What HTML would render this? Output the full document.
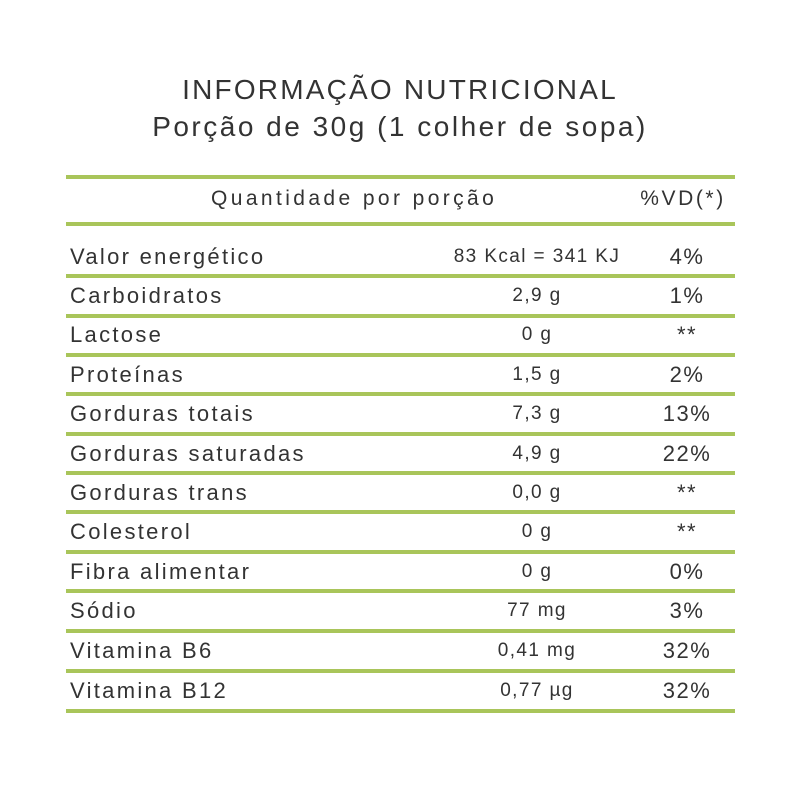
<!DOCTYPE html>
<html><head><meta charset="utf-8"><style>
body{margin:0;width:800px;height:800px;background:#fff;position:relative;font-family:"Liberation Sans",sans-serif;color:#333;overflow:hidden}
.t{position:absolute;left:0;width:800px;text-align:center;font-size:28px;line-height:34px;letter-spacing:2.2px}
.l{position:absolute;left:66px;width:669px;height:4px;background:#a9c55a}
.r{position:absolute;left:0;width:800px;height:30px;line-height:30px;font-size:22px;letter-spacing:2.3px}
.r span{position:absolute;top:0;white-space:nowrap}
.a{left:70px}
.b{left:437px;width:200px;text-align:center;font-size:19px;letter-spacing:1.4px}
.c{left:637px;width:100px;text-align:center;letter-spacing:1.5px}
</style></head><body>
<div class="t" style="top:73px">INFORMAÇÃO NUTRICIONAL</div>
<div class="t" style="top:110px;letter-spacing:2.5px">Porção de 30g (1 colher de sopa)</div>
<div class="l" style="top:175px"></div>
<div class="r" style="top:184px"><span style="left:211px;font-size:21px;letter-spacing:3.4px">Quantidade por porção</span><span class="c" style="font-size:21px;left:633px;letter-spacing:2.6px">%VD(*)</span></div>
<div class="l" style="top:222px"></div>
<div class="r" style="top:242px"><span class="a">Valor energético</span><span class="b">83 Kcal = 341 KJ</span><span class="c">4%</span></div>
<div class="l" style="top:274px"></div>
<div class="r" style="top:281px"><span class="a">Carboidratos</span><span class="b">2,9 g</span><span class="c">1%</span></div>
<div class="l" style="top:314px"></div>
<div class="r" style="top:320px"><span class="a">Lactose</span><span class="b">0 g</span><span class="c">**</span></div>
<div class="l" style="top:353px"></div>
<div class="r" style="top:360px"><span class="a">Proteínas</span><span class="b">1,5 g</span><span class="c">2%</span></div>
<div class="l" style="top:392px"></div>
<div class="r" style="top:399px"><span class="a">Gorduras totais</span><span class="b">7,3 g</span><span class="c">13%</span></div>
<div class="l" style="top:432px"></div>
<div class="r" style="top:439px"><span class="a">Gorduras saturadas</span><span class="b">4,9 g</span><span class="c">22%</span></div>
<div class="l" style="top:471px"></div>
<div class="r" style="top:478px"><span class="a">Gorduras trans</span><span class="b">0,0 g</span><span class="c">**</span></div>
<div class="l" style="top:510px"></div>
<div class="r" style="top:517px"><span class="a">Colesterol</span><span class="b">0 g</span><span class="c">**</span></div>
<div class="l" style="top:550px"></div>
<div class="r" style="top:557px"><span class="a">Fibra alimentar</span><span class="b">0 g</span><span class="c">0%</span></div>
<div class="l" style="top:589px"></div>
<div class="r" style="top:596px"><span class="a">Sódio</span><span class="b">77 mg</span><span class="c">3%</span></div>
<div class="l" style="top:629px"></div>
<div class="r" style="top:636px"><span class="a">Vitamina B6</span><span class="b">0,41 mg</span><span class="c">32%</span></div>
<div class="l" style="top:669px"></div>
<div class="r" style="top:676px"><span class="a">Vitamina B12</span><span class="b">0,77 µg</span><span class="c">32%</span></div>
<div class="l" style="top:709px"></div>
</body></html>
